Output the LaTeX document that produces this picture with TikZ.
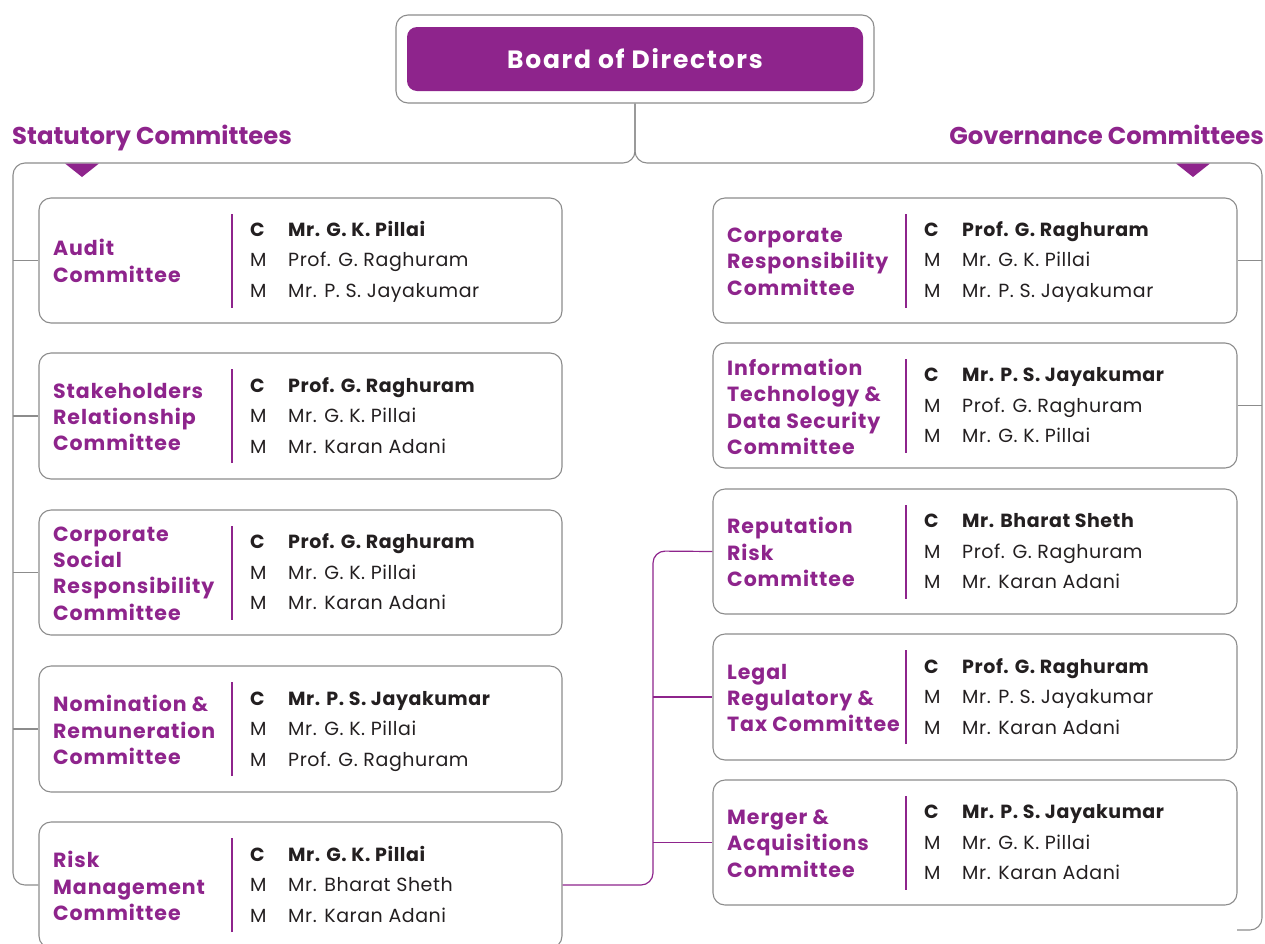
\documentclass[tikz,border=0pt]{standalone}
\usepackage{fontspec}
\setmainfont{Poppins}
\definecolor{pur}{RGB}{142,36,140}
\definecolor{gl}{RGB}{140,140,140}
\definecolor{tx}{RGB}{35,31,32}
\newcommand{\mem}[6]{%
  % #1 node name prefix, #2 x of C, #3 y centre, #4 chair, #5 m1, #6 m2
  \node[memb,font=\membf\bfseries] (#1c) at (#2,#3-24.2) {C};
  \node[memb,font=\membf\bfseries] (#1cn) at (#2+38,#3-24.2) {#4};
  \node[memb] (#1m) at (#2,#3+6.3) {M};
  \node[memb] (#1mn) at (#2+38,#3+6.3) {#5};
  \node[memb] (#1m2) at (#2,#3+36.8) {M};
  \node[memb] (#1m2n) at (#2+38,#3+36.8) {#6};
}
\newcommand{\membf}{\fontsize{19}{20}\selectfont\addfontfeature{LetterSpace=3}}
\begin{document}
\begin{tikzpicture}[x=1pt,y=-1pt,
  cbox/.style={draw=gl,line width=1.1pt,rounded corners=12pt,fill=white},
  gline/.style={draw=gl,line width=1.1pt,rounded corners=12pt},
  pline/.style={draw=pur,line width=1.2pt,rounded corners=12pt},
  ctitle/.style={anchor=west,align=left,text=pur,inner sep=0pt,font=\fontsize{20.5}{26.4}\selectfont\bfseries\addfontfeature{LetterSpace=4.5}},
  memb/.style={anchor=base west,inner sep=0pt,text=tx,font=\membf},
  divl/.style={draw=pur,line width=1.1pt},
  head/.style={text=pur,inner sep=0pt,font=\fontsize{24.3}{30}\selectfont\bfseries}]
\useasboundingbox (0,0) rectangle (1265,943);
\clip (0,0) rectangle (1265,943);
% board
\node[cbox,minimum width=478pt,minimum height=88pt] (bodo) at (635,59) {};
\node[fill=pur,rounded corners=10pt,minimum width=456pt,minimum height=64pt,text=white,font=\fontsize{25}{28}\selectfont\bfseries\addfontfeature{LetterSpace=6.8}] (bod) at (635,59) {Board of Directors};
% headers
\node[head,anchor=base west] (hs) at (12,144.5) {Statutory Committees};
\node[head,anchor=base east] (hg) at (1264,144.5) {Governance Committees};
% coordinates
\coordinate (lt) at (13,163);
\coordinate (rt) at (1262,163);
\coordinate (rend) at (1237,930);
\coordinate (pj) at (653,551);
% left boxes
\node[cbox,minimum width=523pt,minimum height=125pt] (audit) at (300.5,260.5) {};
\node[cbox,minimum width=523pt,minimum height=126pt] (stake) at (300.5,416) {};
\node[cbox,minimum width=523pt,minimum height=125pt] (csr) at (300.5,572.5) {};
\node[cbox,minimum width=523pt,minimum height=126pt] (nom) at (300.5,729) {};
\node[cbox,minimum width=523pt,minimum height=126pt] (risk) at (300.5,885) {};
% right boxes
\node[cbox,minimum width=524pt,minimum height=125pt] (crc) at (975,260.5) {};
\node[cbox,minimum width=524pt,minimum height=125pt] (itc) at (975,405.5) {};
\node[cbox,minimum width=524pt,minimum height=125pt] (rep) at (975,551.5) {};
\node[cbox,minimum width=524pt,minimum height=126pt] (leg) at (975,697) {};
\node[cbox,minimum width=524pt,minimum height=125pt] (mer) at (975,842.5) {};
% grey tree
\draw[gline] (bodo.south) |- (lt) |- (risk.west);
\draw[gline] (bodo.south) |- (rt) |- (rend);
\foreach \n in {audit,stake,csr,nom} \draw[gline] (\n.west -| lt) -- (\n.west);
\foreach \n in {crc,itc} \draw[gline] (\n.east) -- (\n.east -| rt);
% purple tree
\draw[pline] (risk.east) -| (pj) -- (rep.west);
\foreach \n in {leg,mer} \draw[pline] (\n.west -| pj) -- (\n.west);
% triangles
\fill[pur] (65,163.5) -- (99,163.5) -- (82,177) -- cycle;
\fill[pur] (1176,163.5) -- (1210,163.5) -- (1193,177) -- cycle;
% dividers
\foreach \n in {audit,stake,csr,nom,risk} \draw[divl] ([yshift=-47pt]\n.center -| 232,0) -- ([yshift=47pt]\n.center -| 232,0);
\foreach \n in {crc,itc,rep,leg,mer} \draw[divl] ([yshift=-47pt]\n.center -| 906,0) -- ([yshift=47pt]\n.center -| 906,0);
% titles
\node[ctitle] (taudit) at (53,261) {Audit\\Committee};
\node[ctitle] (tstake) at (53,417) {Stakeholders\\Relationship\\Committee};
\node[ctitle] (tcsr) at (53,573.5) {Corporate\\Social\\Responsibility\\Committee};
\node[ctitle] (tnom) at (53,730) {Nomination \&\\Remuneration\\Committee};
\node[ctitle] (trisk) at (53,886) {Risk\\Management\\Committee};
\node[ctitle] (tcrc) at (727,261.5) {Corporate\\Responsibility\\Committee};
\node[ctitle] (titc) at (727,407) {Information\\Technology \&\\Data Security\\Committee};
\node[ctitle] (trep) at (727,552) {Reputation\\Risk\\Committee};
\node[ctitle] (tleg) at (727,698) {Legal\\Regulatory \&\\Tax Committee};
\node[ctitle] (tmer) at (727,843.5) {Merger \&\\Acquisitions\\Committee};
% members
\mem{a}{250}{260.5}{Mr. G. K. Pillai}{Prof. G. Raghuram}{Mr. P. S. Jayakumar}
\mem{s}{250}{416.5}{Prof. G. Raghuram}{Mr. G. K. Pillai}{Mr. Karan Adani}
\mem{c}{250}{573}{Prof. G. Raghuram}{Mr. G. K. Pillai}{Mr. Karan Adani}
\mem{n}{250}{729.5}{Mr. P. S. Jayakumar}{Mr. G. K. Pillai}{Prof. G. Raghuram}
\mem{r}{250}{885.5}{Mr. G. K. Pillai}{Mr. Bharat Sheth}{Mr. Karan Adani}
\mem{cr}{924}{260.5}{Prof. G. Raghuram}{Mr. G. K. Pillai}{Mr. P. S. Jayakumar}
\mem{it}{924}{406}{Mr. P. S. Jayakumar}{Prof. G. Raghuram}{Mr. G. K. Pillai}
\mem{re}{924}{552}{Mr. Bharat Sheth}{Prof. G. Raghuram}{Mr. Karan Adani}
\mem{le}{924}{697.5}{Prof. G. Raghuram}{Mr. P. S. Jayakumar}{Mr. Karan Adani}
\mem{me}{924}{843}{Mr. P. S. Jayakumar}{Mr. G. K. Pillai}{Mr. Karan Adani}
\end{tikzpicture}
\end{document}
